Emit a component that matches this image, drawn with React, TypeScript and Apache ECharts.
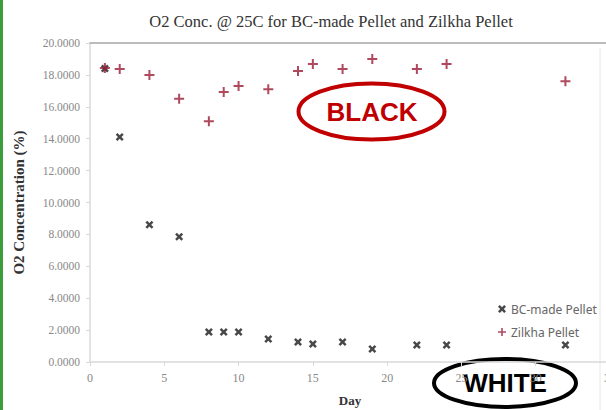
import React, { useEffect, useRef } from "react";
import * as echarts from "echarts";

const TITLE = "O2 Conc. @ 25C for BC-made Pellet and Zilkha Pellet";
const days = [1, 2, 4, 6, 8, 9, 10, 12, 14, 15, 17, 19, 22, 24, 32];
const bcMade = [18.4, 14.1, 8.6, 7.85, 1.88, 1.88, 1.88, 1.44, 1.25, 1.13, 1.25, 0.82, 1.07, 1.07, 1.07];
const zilkha = [18.43, 18.37, 18.0, 16.5, 15.1, 16.93, 17.3, 17.1, 18.24, 18.68, 18.37, 19.0, 18.37, 18.68, 17.6];
const seriesNames = ["BC-made Pellet", "Zilkha Pellet"];

const PLUS = "path://M4,0H6V4H10V6H6V10H4V6H0V4H4Z";
const CROSS = "path://M0,2.2L2.2,0L5,2.8L7.8,0L10,2.2L7.2,5L10,7.8L7.8,10L5,7.2L2.2,10L0,7.8L2.8,5Z";

export default function App() {
  const ref = useRef<HTMLDivElement>(null);
  useEffect(() => {
    if (!ref.current) return;
    const chart = echarts.init(ref.current, null, { renderer: "svg" });
    const serif = "Liberation Serif";
    chart.setOption({
      animation: false,
      backgroundColor: "#ffffff",
      title: {
        text: TITLE,
        left: 326,
        top: 8,
        textAlign: "center",
        textStyle: { fontFamily: serif, fontSize: 16.5, fontWeight: "normal", color: "#333" },
      },
      legend: {
        orient: "vertical",
        left: 493,
        top: 298,
        itemWidth: 8,
        itemHeight: 8,
        itemGap: 11,
        textStyle: { fontFamily: "Noto Sans", fontSize: 12, color: "#666" },
        data: seriesNames,
      },
      grid: { left: 90, top: 43, width: 520, bottom: 48, outerBoundsMode: "none", containLabel: false },
      xAxis: [
        {
          type: "value",
          min: 0,
          max: 35,
          interval: 5,
          name: "Day",
          nameLocation: "middle",
          nameGap: 32,
          nameTextStyle: { fontFamily: serif, fontSize: 13, fontWeight: "bold", color: "#333" },
          axisLine: { show: true, lineStyle: { color: "#d9d9d9", width: 1.5 } },
          axisTick: { show: true, length: 4, lineStyle: { color: "#d9d9d9" } },
          axisLabel: { fontFamily: serif, fontSize: 12, color: "#888", margin: 10 },
          splitLine: { show: false },
        },
        {
          type: "value",
          position: "top",
          min: 0,
          max: 35,
          axisLine: { show: true, lineStyle: { color: "#a6a6a6", width: 1.5 } },
          axisTick: { show: false },
          axisLabel: { show: false },
          splitLine: { show: false },
        },
      ],
      yAxis: {
        type: "value",
        min: 0,
        max: 20,
        interval: 2,
        name: "O2 Concentration (%)",
        nameLocation: "middle",
        nameGap: 64,
        nameTextStyle: { fontFamily: serif, fontSize: 15, fontWeight: "bold", color: "#333" },
        axisLine: { show: true, lineStyle: { color: "#d9d9d9", width: 1.5 } },
        axisTick: { show: true, length: 4, lineStyle: { color: "#d9d9d9" } },
        axisLabel: {
          fontFamily: serif,
          fontSize: 11.5,
          color: "#888",
          margin: 10,
          formatter: (v: number) => v.toFixed(4),
        },
        splitLine: { show: false },
      },
      series: [
        {
          name: seriesNames[0],
          type: "scatter",
          symbol: CROSS,
          symbolSize: 8,
          itemStyle: { color: "#1a1a1a" },
          data: days.map((d, i) => [d, bcMade[i]]),
          z: 2,
        },
        {
          name: seriesNames[1],
          type: "scatter",
          symbol: PLUS,
          symbolSize: 10,
          itemStyle: { color: "#9b1c35" },
          data: days.map((d, i) => [d, zilkha[i]]),
          z: 3,
        },
      ],
      graphic: [
        { type: "rect", left: 0, top: 0, shape: { width: 3, height: 410 }, style: { fill: "#3a9d3a" } },
        { type: "line", shape: { x1: 600, y1: 48, x2: 600, y2: 410 }, style: { stroke: "#e6e6e6", lineWidth: 1 } },
        {
          type: "ellipse",
          shape: { cx: 371.5, cy: 111.5, rx: 73, ry: 28 },
          style: { fill: "none", stroke: "#c00000", lineWidth: 4 },
        },
        {
          type: "text",
          x: 372,
          y: 112,
          style: {
            text: "BLACK",
            fontFamily: "Liberation Sans",
            fontWeight: "bold",
            fontSize: 26,
            fill: "#c00000",
            align: "center",
            verticalAlign: "middle",
          },
        },
        {
          type: "ellipse",
          shape: { cx: 505, cy: 383, rx: 71, ry: 24 },
          style: { fill: "none", stroke: "#000", lineWidth: 4 },
        },
        {
          type: "text",
          x: 505,
          y: 383,
          style: {
            text: "WHITE",
            fontFamily: "Liberation Sans",
            fontWeight: "bold",
            fontSize: 26,
            fill: "#000",
            align: "center",
            verticalAlign: "middle",
          },
        },
      ],
    });
    return () => chart.dispose();
  }, []);
  return (
    <div
      ref={ref}
      style={{ position: "fixed", left: 0, top: 0, width: 606, height: 410 }}
    />
  );
}
